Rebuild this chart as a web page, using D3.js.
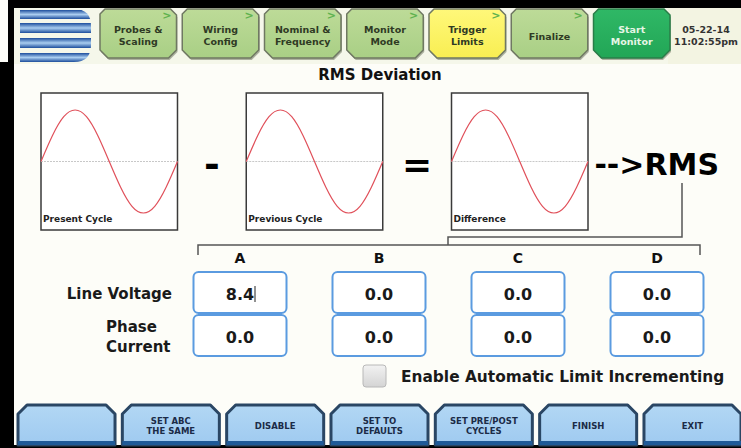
<!DOCTYPE html>
<html>
<head>
<meta charset="utf-8">
<script src="https://cdn.jsdelivr.net/npm/d3@7"></script>
<style>
  body{margin:0;background:#fdfdf8}
  svg{display:block}
  text{font-family:"DejaVu Sans",Verdana,sans-serif;font-weight:bold}
</style>
</head>
<body>
<div class="screen"></div>
<script>
const tabs = [["Probes &","Scaling"],["Wiring","Config"],["Nominal &","Frequency"],["Monitor","Mode"],["Trigger","Limits"],["Finalize"],["Start","Monitor"]]
const tabState = ["done","done","done","done","active","done","start"]
const dateLines = ["05-22-14","11:02:55pm"]
const title = "RMS Deviation"
const panels = ["Present Cycle","Previous Cycle","Difference"]
const wave = [0,0.5,0.87,1,0.87,0.5,0,-0.5,-0.87,-1,-0.87,-0.5,0]
const channels = ["A","B","C","D"]
const rowLabels = [["Line Voltage"],["Phase","Current"]]
const lineVoltage = [8.4,0.0,0.0,0.0]
const phaseCurrent = [0.0,0.0,0.0,0.0]
const checkLabel = "Enable Automatic Limit Incrementing"
const buttons = [[],["SET ABC","THE SAME"],["DISABLE"],["SET TO","DEFAULTS"],["SET PRE/POST","CYCLES"],["FINISH"],["EXIT"]]

const W = 741, H = 448

const svg = d3.select(".screen").append("svg").attr("width",W).attr("height",H)
const defs = svg.append("defs")

// gradients
const lg = (id,stops)=>{
  const g = defs.append("linearGradient").attr("id",id).attr("x1",0).attr("x2",0).attr("y1",0).attr("y2",1)
  stops.forEach(s=>g.append("stop").attr("offset",s[0]).attr("stop-color",s[1]))
}
lg("logoG",[[0,"#1c4d9c"],[0.5,"#a9cdf0"],[1,"#1c4d9c"]])
lg("tabG",[[0,"#bddb98"],[1,"#a9cf85"]])
lg("trigG",[[0,"#fff87a"],[1,"#f8ee52"]])
lg("startG",[[0,"#2fb866"],[1,"#22a656"]])
lg("btnG",[[0,"#b2d7f4"],[1,"#9fcaf0"]])
lg("chkG",[[0,"#f2f2f2"],[1,"#d4d4d4"]])

// background / frame
svg.append("rect").attr("width",W).attr("height",H).attr("fill","#fdfdf8")
svg.append("rect").attr("x",8).attr("y",8).attr("width",W-8).attr("height",56).attr("fill","#f5f7ea")
svg.append("rect").attr("x",668).attr("y",8).attr("width",73).attr("height",56).attr("fill","#f3f4e2")
svg.append("rect").attr("x",8).attr("y",0).attr("width",W-8).attr("height",8).attr("fill","#000")
svg.append("rect").attr("x",8).attr("y",0).attr("width",6).attr("height",64).attr("fill","#000")
svg.append("rect").attr("x",0).attr("y",62).attr("width",14).attr("height",H-62).attr("fill","#000")
svg.append("rect").attr("x",0).attr("y",445).attr("width",W).attr("height",3).attr("fill","#000")

// logo
defs.append("clipPath").attr("id","logoClip").append("path")
  .attr("d","M20,9 H74 Q91,9 91,26 V45 Q91,62 74,62 H20 Z")
const logo = svg.append("g").attr("clip-path","url(#logoClip)")
;[[10,9],[23,10],[38,10],[53,9]].forEach(s=>{
  logo.append("rect").attr("x",20).attr("y",s[0]).attr("width",72).attr("height",s[1]).attr("fill","url(#logoG)")
})

// tabs
const tabX = d3.scaleBand().domain(d3.range(tabs.length)).range([100,670]).paddingInner(0.07)
const tabFill = {done:"url(#tabG)",active:"url(#trigG)",start:"url(#startG)"}
const tabPath = (x,w,y0,y1)=>`M${x+5},${y0} H${x+w-6} L${x+w},${y0+6} V${y1-8} L${x+w-8},${y1} H${x+8} L${x},${y1-8} V${y0+5} Z`
tabs.forEach((t,i)=>{
  const x = tabX(i), w = tabX.bandwidth()
  const g = svg.append("g")
  g.append("path").attr("d",tabPath(x+1,w,11,60)).attr("fill","#8d937f").attr("opacity",0.7)
  g.append("path").attr("d",tabPath(x,w,9,58)).attr("fill",tabFill[tabState[i]])
    .attr("stroke",tabState[i]=="start"?"#2a7d48":"#6f7862").attr("stroke-width",1.5)
  const cx = x+w/2
  const ys = t.length==1 ? [40] : [33,45]
  t.forEach((s,j)=>g.append("text").attr("x",cx).attr("y",ys[j]).attr("text-anchor","middle")
    .attr("font-size",9.5).attr("fill",tabState[i]=="start"?"#e6f6e6":"#2f3a24").text(s))
  if(tabState[i]!="start") g.append("text").attr("x",x+w-5).attr("y",19).attr("text-anchor","end")
    .attr("font-size",11).attr("font-weight","normal").attr("fill","#5fb24f").text(">")
})
dateLines.forEach((s,j)=>svg.append("text").attr("x",706).attr("y",33+j*12).attr("text-anchor","middle")
  .attr("font-size",9.5).attr("fill","#333").text(s))

// title
svg.append("text").attr("x",380).attr("y",80).attr("text-anchor","middle").attr("font-size",15).attr("fill","#111").text(title)

// waveform panels
const panelX = d3.scaleBand().domain(panels).range([41,588]).paddingInner(0.335)
const pTop = 93, pH = 137
const wx = d3.scaleLinear().domain([0,wave.length-1]).range([0,panelX.bandwidth()])
const wy = d3.scaleLinear().domain([-1.33,1.33]).range([pH,0])
const line = d3.line().x((d,i)=>wx(i)).y(d=>wy(d)).curve(d3.curveNatural)
panels.forEach(p=>{
  const g = svg.append("g").attr("transform",`translate(${panelX(p)},${pTop})`)
  g.append("rect").attr("width",panelX.bandwidth()).attr("height",pH).attr("fill","#fff").attr("stroke","#3a3a3a").attr("stroke-width",1.5)
  g.append("line").attr("x1",0).attr("x2",panelX.bandwidth()).attr("y1",wy(0)).attr("y2",wy(0))
    .attr("stroke","#c8c8c8").attr("stroke-dasharray","2,1")
  g.append("path").attr("d",line(wave)).attr("fill","none").attr("stroke","#e0505a").attr("stroke-width",1.2)
  g.append("text").attr("x",2).attr("y",pH-8).attr("font-size",9).attr("fill","#222").text(p)
})
svg.append("text").attr("x",212).attr("y",177).attr("text-anchor","middle").attr("font-size",38).attr("fill","#000").text("-")
svg.append("text").attr("x",417).attr("y",177).attr("text-anchor","middle").attr("font-size",36).attr("fill","#000").text("=")
svg.append("text").attr("x",719).attr("y",175).attr("text-anchor","end").attr("font-size",30).attr("fill","#000").text("-->RMS")

// bracket
svg.append("path").attr("d","M682,183 V237 H448 V245").attr("fill","none").attr("stroke","#555").attr("stroke-width",1.5)
svg.append("path").attr("d","M198,255 V245 H700 V255").attr("fill","none").attr("stroke","#555").attr("stroke-width",1.5)

// channel grid
const colX = d3.scalePoint().domain(channels).range([240,657])
const rowY = d3.scaleBand().domain([0,1]).range([272,356]).paddingInner(0.05)
const boxW = 93
channels.forEach(c=>svg.append("text").attr("x",colX(c)).attr("y",263).attr("text-anchor","middle")
  .attr("font-size",14).attr("fill","#111").text(c))
;[lineVoltage,phaseCurrent].forEach((vals,r)=>{
  vals.forEach((v,i)=>{
    const x = colX(channels[i])-boxW/2, y = rowY(r)
    svg.append("rect").attr("x",x).attr("y",y).attr("width",boxW).attr("height",rowY.bandwidth())
      .attr("rx",5).attr("fill","#fff").attr("stroke","#5b9be0").attr("stroke-width",2)
    svg.append("text").attr("x",colX(channels[i])).attr("y",y+28).attr("text-anchor","middle")
      .attr("font-size",16).attr("fill","#1a1a1a").text(v.toFixed(1))
  })
})
// text cursor in the active field
svg.append("line").attr("x1",255).attr("x2",255).attr("y1",286).attr("y2",302).attr("stroke","#222").attr("stroke-width",1)

svg.append("text").attr("x",172).attr("y",299).attr("text-anchor","end").attr("font-size",15).attr("fill","#1a1a1a").text(rowLabels[0][0])
rowLabels[1].forEach((s,j)=>svg.append("text").attr("x",106).attr("y",332+j*20).attr("font-size",15).attr("fill","#1a1a1a").text(s))

// checkbox
svg.append("rect").attr("x",363).attr("y",365).attr("width",23).attr("height",22).attr("rx",3)
  .attr("fill","url(#chkG)").attr("stroke","#b8b8b8")
svg.append("text").attr("x",401).attr("y",382).attr("font-size",15.4).attr("fill","#1a1a1a").text(checkLabel)

// bottom buttons
const btnX = d3.scaleBand().domain(d3.range(buttons.length)).range([18,741]).paddingInner(0.07)
const btnPath = (x,w,y0,y1)=>`M${x},${y1} V${y0+9} L${x+9},${y0} H${x+w-9} L${x+w},${y0+9} V${y1}`
buttons.forEach((b,i)=>{
  const x = btnX(i), w = btnX.bandwidth()
  const g = svg.append("g")
  g.append("path").attr("d",btnPath(x,w,405,445)+" Z").attr("fill","url(#btnG)")
    .attr("stroke","#2a4664").attr("stroke-width",3).attr("stroke-linejoin","round")
  g.append("rect").attr("x",x).attr("y",441).attr("width",w).attr("height",4).attr("fill","#1f5a98")
  const ys = b.length==1 ? [429] : [424,434]
  b.forEach((s,j)=>g.append("text").attr("x",x+w/2).attr("y",ys[j]).attr("text-anchor","middle")
    .attr("font-size",8.5).attr("fill","#1b2b47").text(s))
})
</script>
</body>
</html>
